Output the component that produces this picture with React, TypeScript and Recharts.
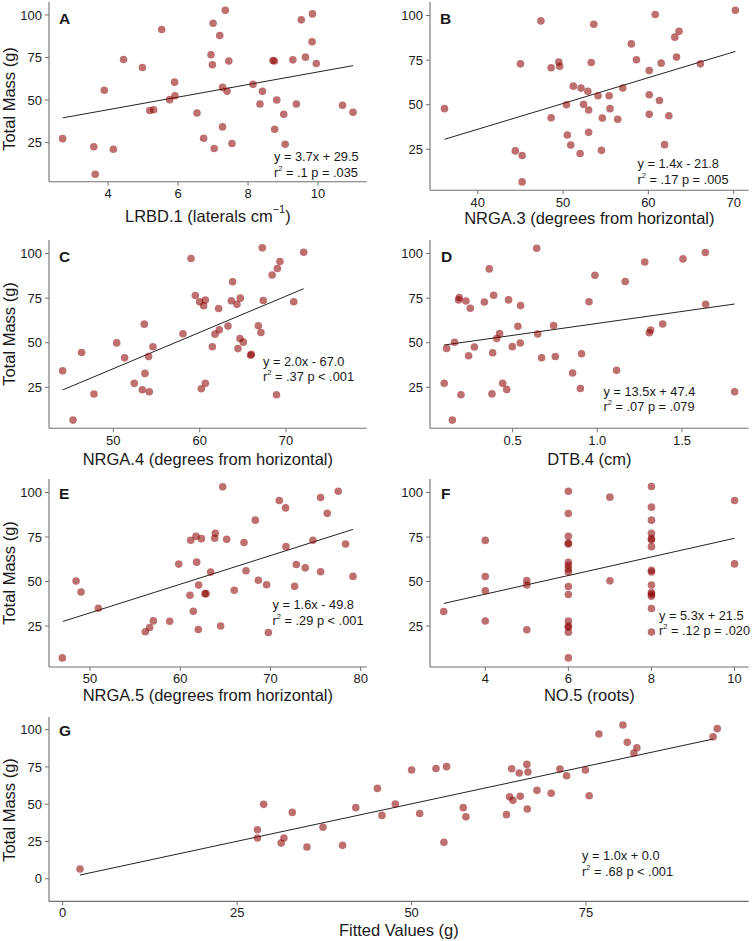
import React from 'react'
import { ScatterChart, Scatter, XAxis, YAxis, ReferenceLine } from 'recharts'

const FONT = '"Liberation Sans", Arial, Helvetica, sans-serif'
const DOT = '#8b0000'
const AXIS = '#707070'
const INK = '#1a1a1a'

// A: LRBD.1
const lrbdX = [2.70, 3.59, 3.63, 3.89, 4.15, 4.44, 4.98, 5.19, 5.30, 5.53, 5.76, 5.90, 5.91, 6.54, 6.73, 6.94, 7.00, 6.98, 7.03, 7.19, 7.27, 7.27, 7.35, 7.40, 7.45, 7.54, 8.14, 8.34, 8.41, 8.71, 8.75, 8.76, 8.82, 9.02, 9.06, 9.28, 9.38, 9.52, 9.64, 9.84, 9.83, 9.95, 10.7, 11.0]
const lrbdY = [27.3, 22.5, 6.4, 55.7, 21.1, 73.8, 69.1, 43.8, 44.3, 91.4, 50.2, 60.5, 52.5, 42.4, 27.5, 76.6, 95.1, 70.7, 21.5, 87.9, 34.2, 57.4, 102.7, 55.1, 72.9, 24.4, 59.2, 47.7, 55.1, 73.2, 72.9, 32.8, 50.0, 41.6, 24.0, 73.6, 47.7, 97.1, 75.2, 100.6, 84.2, 71.5, 46.9, 42.8]
const lrbdFit = [[2.7, 39.5], [11.0, 70.2]]

// B: NRGA.3
const nrga3X = [36.1, 44.4, 45.0, 45.2, 45.2, 47.4, 48.6, 48.6, 49.5, 49.6, 50.4, 50.5, 50.9, 51.2, 52.0, 52.1, 52.4, 52.9, 53.0, 53.0, 53.3, 53.6, 54.1, 54.5, 54.6, 55.4, 55.5, 56.4, 57.0, 58.0, 58.6, 60.1, 60.1, 60.1, 60.8, 61.3, 61.5, 61.9, 62.4, 63.1, 63.3, 63.6, 66.1, 70.2]
const nrga3Y = [47.8, 24.1, 72.9, 21.5, 6.7, 97.0, 70.7, 42.7, 73.9, 71.5, 50.0, 33.0, 27.4, 60.4, 22.6, 59.3, 50.2, 57.5, 47.0, 34.5, 73.7, 95.1, 55.0, 24.4, 42.5, 55.0, 47.8, 41.8, 59.3, 84.1, 75.2, 69.2, 55.6, 44.6, 100.6, 52.4, 73.3, 27.6, 43.8, 87.9, 76.7, 91.2, 72.9, 103.0]
const nrga3Fit = [[36.1, 30.6], [70.2, 79.9]]

// C: NRGA.4
const nrga4X = [44.13, 45.33, 46.33, 47.76, 50.39, 51.31, 52.43, 53.36, 53.59, 53.67, 54.09, 54.17, 54.59, 58.07, 59.0, 59.5, 60.0, 60.19, 60.46, 60.66, 60.66, 61.47, 61.78, 62.2, 62.28, 63.28, 63.67, 63.82, 64.32, 64.44, 64.67, 64.71, 65.06, 65.9, 66.0, 66.8, 67.1, 67.26, 67.37, 68.4, 69.0, 68.9, 69.3, 70.9, 72.05]
const nrga4Y = [34.3, 6.6, 44.5, 21.2, 49.9, 41.5, 27.2, 23.6, 60.4, 32.8, 42.2, 22.5, 47.7, 55.0, 97.2, 76.5, 73.0, 24.2, 70.7, 73.9, 27.2, 47.7, 54.8, 69.2, 57.2, 59.3, 73.5, 84.2, 71.5, 46.7, 52.3, 75.0, 50.3, 43.0, 43.5, 59.5, 55.7, 103.2, 73.7, 88.0, 91.6, 20.8, 95.5, 73.0, 100.75]
const nrga4Fit = [[44.13, 23.5], [72.05, 80.3]]

// D: DTB.4
const dtbX = [0.096, 0.110, 0.144, 0.157, 0.181, 0.185, 0.195, 0.224, 0.240, 0.250, 0.274, 0.333, 0.362, 0.378, 0.382, 0.388, 0.406, 0.423, 0.441, 0.465, 0.476, 0.498, 0.531, 0.545, 0.547, 0.642, 0.648, 0.671, 0.742, 0.752, 0.854, 0.900, 0.907, 0.951, 0.986, 1.114, 1.165, 1.28, 1.307, 1.315, 1.386, 1.506, 1.638, 1.640, 1.811]
const dtbY = [27.3, 46.8, 6.6, 50.2, 74.0, 75.3, 20.8, 73.4, 42.7, 69.3, 47.6, 72.8, 91.4, 21.3, 44.4, 76.6, 52.4, 55.1, 27.2, 23.8, 74.0, 47.8, 59.2, 49.8, 70.8, 103.0, 54.9, 41.6, 59.6, 42.3, 33.0, 24.3, 43.8, 73.0, 87.8, 34.5, 84.3, 95.3, 55.6, 57.1, 60.5, 97.0, 100.6, 71.5, 22.5]
const dtbFit = [[0.096, 48.7], [1.811, 71.7]]

// E: NRGA.5
const nrga5X = [46.93, 48.45, 49.0, 50.92, 56.13, 56.61, 57.02, 58.83, 59.83, 61.08, 61.45, 61.16, 61.75, 61.82, 62.04, 62.0, 62.34, 62.74, 62.86, 63.37, 63.82, 63.89, 64.48, 64.7, 65.15, 65.99, 67.07, 67.29, 68.32, 68.66, 69.58, 69.77, 70.98, 71.68, 71.72, 72.68, 72.87, 73.86, 74.71, 75.56, 75.56, 76.3, 77.52, 78.33, 79.15]
const nrga5Y = [7.1, 50.3, 44.1, 35.0, 21.8, 24.2, 27.9, 27.7, 59.8, 42.3, 33.3, 73.2, 75.4, 60.9, 48.0, 23.1, 74.1, 43.2, 43.2, 55.3, 74.3, 77.1, 25.0, 103.2, 73.7, 45.1, 71.9, 56.1, 84.5, 50.7, 48.2, 21.4, 95.5, 91.4, 69.6, 47.3, 59.6, 57.7, 73.2, 97.2, 55.5, 88.3, 100.7, 71.1, 52.9]
const nrga5Fit = [[47.0, 27.6], [79.15, 79.3]]

// F: NO.5
const no5X = [3, 4, 4, 4, 4, 5, 5, 5, 6, 6, 6, 6, 6, 6, 6, 6, 6, 6, 6, 6, 6, 6, 6, 6, 7, 7, 8, 8, 8, 8, 8, 8, 8, 8, 8, 8, 8, 8, 8, 8, 8, 10, 10]
const no5Y = [33.2, 73.1, 52.8, 44.8, 27.8, 50.6, 48.1, 22.9, 100.7, 88.2, 75.4, 71.6, 71.1, 60.8, 59.0, 57.1, 55.4, 47.2, 42.7, 27.8, 25.0, 24.3, 21.5, 7.1, 97.4, 50.4, 103.4, 91.8, 84.5, 77.1, 74.1, 73.5, 69.6, 56.3, 55.4, 48.1, 43.8, 42.9, 41.8, 34.9, 21.6, 95.5, 59.9]
const no5Fit = [[3, 37.7], [10, 74.3]]

// G: fitted values
const fittedX = [2.48, 27.9, 27.9, 28.8, 31.3, 31.7, 32.9, 35.0, 37.3, 40.1, 42.0, 45.1, 45.75, 47.66, 50.0, 51.15, 53.49, 54.63, 55.01, 57.4, 57.78, 63.6, 64.04, 64.33, 64.52, 65.42, 65.57, 66.52, 66.67, 66.57, 67.96, 70.0, 71.25, 72.2, 74.9, 75.45, 76.84, 80.28, 80.9, 81.85, 82.28, 93.2, 93.8]
const fittedY = [6.5, 32.9, 27.3, 49.9, 23.9, 27.3, 44.5, 21.3, 34.5, 22.4, 47.7, 60.6, 42.5, 50.1, 72.9, 43.8, 74.0, 24.4, 75.2, 47.7, 41.6, 43.0, 55.0, 73.8, 52.6, 70.9, 55.3, 76.7, 71.6, 46.8, 59.3, 57.3, 73.6, 69.1, 72.9, 55.7, 97.1, 103.1, 91.5, 84.3, 87.9, 95.3, 100.7]
const fittedFit = [[2.48, 2.5], [93.2, 93.7]]

const massTicks = [25, 50, 75, 100]
const massTicksG = [0, 25, 50, 75, 100]

const Y_W = 46
const M_TOP = 6
const M_RIGHT = 8
const X_H = 24

const zip = (xs: number[], ys: number[]) => xs.map((x, i) => ({ x, y: ys[i] }))

const Dot = (props: any) => (
	<circle cx={props.cx} cy={props.cy} r={3.8} fill={DOT} fillOpacity={0.56} />
)

function Panel({ box, xs, ys, fit, xDomain, xTicks, yDomain, yTicks, xFormat, xGap = 3 }: any) {
	const w = Y_W + (box.right - box.left) + M_RIGHT
	const h = M_TOP + (box.bottom - box.top) + X_H
	const tick = { fill: INK, fontSize: 13, fontFamily: FONT }
	return (
		<div style={{ position: 'absolute', left: box.left - Y_W, top: box.top - M_TOP }}>
			<ScatterChart width={w} height={h} margin={{ top: M_TOP, right: M_RIGHT, bottom: 0, left: 0 }}>
				<XAxis
					type="number"
					dataKey="x"
					domain={xDomain}
					ticks={xTicks}
					allowDataOverflow
					height={X_H}
					tick={tick}
					tickSize={4}
					tickMargin={xGap}
					tickFormatter={xFormat}
					axisLine={{ stroke: AXIS, strokeWidth: 1.1 }}
					tickLine={{ stroke: AXIS }}
				/>
				<YAxis
					type="number"
					dataKey="y"
					domain={yDomain}
					ticks={yTicks}
					allowDataOverflow
					width={Y_W}
					tick={tick}
					tickSize={4}
					tickMargin={3}
					axisLine={{ stroke: AXIS, strokeWidth: 1.1 }}
					tickLine={{ stroke: AXIS }}
				/>
				<Scatter data={zip(xs, ys)} shape={Dot} isAnimationActive={false} />
				<ReferenceLine
					segment={[{ x: fit[0][0], y: fit[0][1] }, { x: fit[1][0], y: fit[1][1] }]}
					stroke="#222"
					strokeWidth={1}
				/>
			</ScatterChart>
		</div>
	)
}

const Txt = ({ x, y, children, size = 16.5, bold = false, center = false, rotate = false }: any) => (
	<div
		style={{
			position: 'absolute',
			left: x,
			top: y,
			fontFamily: FONT,
			fontSize: size,
			fontWeight: bold ? 700 : 400,
			color: INK,
			lineHeight: 1,
			whiteSpace: 'nowrap',
			transform: rotate
				? 'translate(-50%, -50%) rotate(-90deg)'
				: center ? 'translate(-50%, -50%)' : 'translateY(-50%)',
		}}
	>
		{children}
	</div>
)

const Stats = ({ x, y, eq, r2, p }: any) => (
	<>
		<Txt x={x} y={y} size={12.8}>{eq}</Txt>
		<Txt x={x} y={y + 15.5} size={12.8}>
			r<sup style={{ fontSize: 7.5, verticalAlign: 'top', position: 'relative', top: -2 }}>2</sup> = {r2} p {p}
		</Txt>
	</>
)

const boxA = { left: 49, top: 2, right: 366.7, bottom: 181.7 }
const boxB = { left: 430, top: 1.7, right: 748.7, bottom: 190 }
const boxC = { left: 49, top: 240, right: 366.7, bottom: 428.3 }
const boxD = { left: 430, top: 240, right: 748.7, bottom: 428.3 }
const boxE = { left: 49, top: 479.3, right: 366.7, bottom: 667.3 }
const boxF = { left: 430, top: 479.3, right: 748.7, bottom: 667.3 }
const boxG = { left: 49, top: 717.3, right: 748.7, bottom: 901.7 }

const massDomain = [2.0, 107.6]
const mid = (b: any) => (b.top + b.bottom) / 2
const cx = (b: any) => (b.left + b.right) / 2

export default function App() {
	return (
		<div style={{ position: 'absolute', left: 0, top: 0, width: 752, height: 941, background: '#fff', overflow: 'hidden' }}>
			<Panel box={boxA} xs={lrbdX} ys={lrbdY} fit={lrbdFit} xDomain={[2.31, 11.39]} xTicks={[4, 6, 8, 10]} yDomain={massDomain} yTicks={massTicks} />
			<Panel box={boxB} xs={nrga3X} ys={nrga3Y} fit={nrga3Fit} xDomain={[34.4, 71.76]} xTicks={[40, 50, 60, 70]} yDomain={massDomain} yTicks={massTicks} />
			<Panel box={boxC} xs={nrga4X} ys={nrga4Y} fit={nrga4Fit} xDomain={[42.55, 79.35]} xTicks={[50, 60, 70]} yDomain={massDomain} yTicks={massTicks} />
			<Panel box={boxD} xs={dtbX} ys={dtbY} fit={dtbFit} xDomain={[0.012, 1.894]} xTicks={[0.5, 1.0, 1.5]} yDomain={massDomain} yTicks={massTicks} xFormat={(v: number) => v.toFixed(1)} />
			<Panel box={boxE} xs={nrga5X} ys={nrga5Y} fit={nrga5Fit} xDomain={[45.45, 80.67]} xTicks={[50, 60, 70, 80]} yDomain={massDomain} yTicks={massTicks} />
			<Panel box={boxF} xs={no5X} ys={no5Y} fit={no5Fit} xDomain={[2.67, 10.34]} xTicks={[4, 6, 8, 10]} yDomain={massDomain} yTicks={massTicks} />
			<Panel box={boxG} xs={fittedX} ys={fittedY} fit={fittedFit} xDomain={[-1.96, 98.3]} xTicks={[0, 25, 50, 75]} yDomain={[-15.2, 108.5]} yTicks={massTicksG} xGap={2} />

			{/* panel letters */}
			<Txt x={59} y={18.5} size={15.5} bold>A</Txt>
			<Txt x={440} y={18.5} size={15.5} bold>B</Txt>
			<Txt x={59} y={257} size={15.5} bold>C</Txt>
			<Txt x={441} y={257} size={15.5} bold>D</Txt>
			<Txt x={59} y={493.5} size={15.5} bold>E</Txt>
			<Txt x={441} y={493.5} size={15.5} bold>F</Txt>
			<Txt x={59} y={731} size={15.5} bold>G</Txt>

			{/* y titles */}
			<Txt x={9} y={mid(boxA) + 7} rotate>Total Mass (g)</Txt>
			<Txt x={9} y={mid(boxC)} rotate>Total Mass (g)</Txt>
			<Txt x={9} y={mid(boxE)} rotate>Total Mass (g)</Txt>
			<Txt x={9} y={mid(boxG)} rotate>Total Mass (g)</Txt>

			{/* x titles */}
			<Txt x={cx(boxA)} y={216} center>
				LRBD.1 (laterals cm<sup style={{ fontSize: 11, verticalAlign: 'top', position: 'relative', top: -4 }}>−1</sup>)
			</Txt>
			<Txt x={cx(boxB)} y={218} center>NRGA.3 (degrees from horizontal)</Txt>
			<Txt x={cx(boxC)} y={459} center>NRGA.4 (degrees from horizontal)</Txt>
			<Txt x={cx(boxD)} y={458.5} center>DTB.4 (cm)</Txt>
			<Txt x={cx(boxE)} y={695} center>NRGA.5 (degrees from horizontal)</Txt>
			<Txt x={cx(boxF)} y={695} center>NO.5 (roots)</Txt>
			<Txt x={cx(boxG)} y={929.5} center>Fitted Values (g)</Txt>

			{/* regression stats */}
			<Stats x={274} y={157} eq="y = 3.7x + 29.5" r2=".1" p="= .035" />
			<Stats x={637.5} y={164} eq="y = 1.4x - 21.8" r2=".17" p="= .005" />
			<Stats x={263} y={361.5} eq="y = 2.0x - 67.0" r2=".37" p="< .001" />
			<Stats x={603.5} y={391.5} eq="y = 13.5x + 47.4" r2=".07" p="= .079" />
			<Stats x={272.5} y={605} eq="y = 1.6x - 49.8" r2=".29" p="< .001" />
			<Stats x={659} y={615.5} eq="y = 5.3x + 21.5" r2=".12" p="= .020" />
			<Stats x={582} y={856} eq="y = 1.0x + 0.0" r2=".68" p="< .001" />
		</div>
	)
}
